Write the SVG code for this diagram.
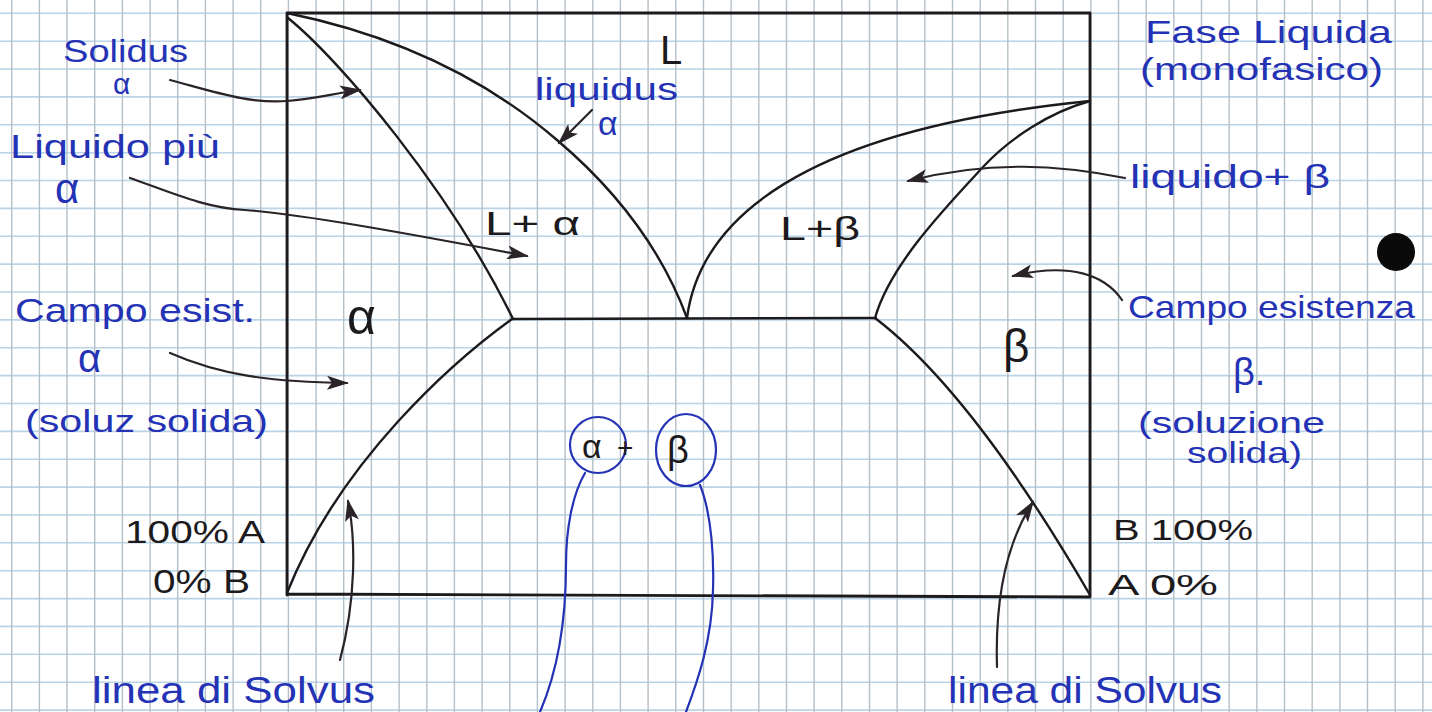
<svg xmlns="http://www.w3.org/2000/svg" width="1432" height="712" viewBox="0 0 1432 712">
<style>
.gv{stroke:#b4c0c8;stroke-width:1.4;fill:none}
.gh{stroke:#b9d4e6;stroke-width:1.6;fill:none}
.ax{stroke:#1c1a1c;stroke-width:2.8;fill:none;stroke-linecap:round}
.cv{stroke:#1c1a1c;stroke-width:2.4;fill:none;stroke-linecap:round}
.ar{stroke:#2a2428;stroke-width:2.2;fill:none;stroke-linecap:round;marker-end:url(#head)}
.bl{stroke:#2433b5;stroke-width:2.2;fill:none;stroke-linecap:round}
.tb{font-family:"Liberation Sans",Arial,sans-serif;fill:#2433b5}
.tk{font-family:"Liberation Sans",Arial,sans-serif;fill:#1c1a1c}
</style>
<defs>
<marker id="head" viewBox="0 0 22 14" refX="20" refY="7" markerWidth="22" markerHeight="14" markerUnits="userSpaceOnUse" orient="auto">
<path d="M0,0 L22,7 L0,14 L5,7 z" fill="#2a2428"/>
</marker>
</defs>
<rect width="1432" height="712" fill="#ffffff"/>
<g id="grid">
<path class="gh" d="M0 13.3H1432M0 41.2H1432M0 69H1432M0 96.9H1432M0 124.8H1432M0 152.7H1432M0 180.5H1432M0 208.4H1432M0 236.3H1432M0 264.1H1432M0 292H1432M0 319.9H1432M0 347.7H1432M0 375.6H1432M0 403.5H1432M0 431.4H1432M0 459.2H1432M0 487.1H1432M0 515H1432M0 542.8H1432M0 570.7H1432M0 598.6H1432M0 626.4H1432M0 654.3H1432M0 682.2H1432M0 710.1H1432"/>
<path class="gv" d="M11.7 0V712M39.4 0V712M67 0V712M94.7 0V712M122.4 0V712M150.1 0V712M177.7 0V712M205.4 0V712M233.1 0V712M260.7 0V712M288.4 0V712M316.1 0V712M343.7 0V712M371.4 0V712M399.1 0V712M426.8 0V712M454.4 0V712M482.1 0V712M509.8 0V712M537.4 0V712M565.1 0V712M592.8 0V712M620.4 0V712M648.1 0V712M675.8 0V712M703.5 0V712M731.1 0V712M758.8 0V712M786.5 0V712M814.1 0V712M841.8 0V712M869.5 0V712M897.1 0V712M924.8 0V712M952.5 0V712M980.2 0V712M1007.8 0V712M1035.5 0V712M1063.2 0V712M1090.8 0V712M1118.5 0V712M1146.2 0V712M1173.8 0V712M1201.5 0V712M1229.2 0V712M1256.9 0V712M1284.5 0V712M1312.2 0V712M1339.9 0V712M1367.5 0V712M1395.2 0V712M1422.9 0V712"/>
</g>
<g id="frame">
<path class="ax" d="M287,13 L1090,13 M287,13 L287,595 M1090,13 L1090,597 M287,594 L1090,597"/>
</g>
<g id="phase-lines">
<path id="liquidus-alpha" class="cv" d="M287,13 C370,30 470,65 557,140 C610,185 660,245 687,318"/>
<path id="solidus-alpha" class="cv" d="M288,18 C340,60 450,190 513,319"/>
<path id="solvus-alpha" class="cv" d="M512,319 C455,360 340,460 287,593"/>
<path id="eutectic" class="cv" d="M512,319 L876,318"/>
<path id="liquidus-beta" class="cv" d="M687,318 C700,220 800,130 1090,101"/>
<path id="solidus-beta" class="cv" d="M1090,101 C1050,112 1010,138 983,167 C945,208 890,265 875,318"/>
<path id="solvus-beta" class="cv" d="M875,318 C930,360 1000,440 1090,595"/>
</g>
<g id="connectors">
<path class="ar" d="M170,80 C215,92 250,104 287,101 C315,99 335,93 360,90"/>
<path class="ar" d="M130,178 C170,192 205,208 245,210 C300,214 400,232 527,256"/>
<path class="ar" d="M592,110 L559,143"/>
<path class="ar" d="M1125,178 C1060,165 990,160 908,181"/>
<path class="ar" d="M1122,300 C1105,275 1070,262 1013,276"/>
<path class="ar" d="M170,353 C220,375 270,382 347,383"/>
<path class="ar" d="M340,660 C356,600 356,540 348,501"/>
<path class="ar" d="M997,667 C995,600 1005,545 1033,502"/>
<path class="bl" d="M585,473 C572,495 566,530 566,565 C566,620 558,670 540,712"/>
<path class="bl" d="M700,485 C712,515 714,560 713,590 C712,640 698,680 686,712"/>
</g>
<g id="label-solidus">
<text class="tb" x="63" y="62" font-size="32" textLength="125" lengthAdjust="spacingAndGlyphs">Solidus</text>
<text class="tb" x="113" y="94" font-size="30">α</text>
</g>
<g id="label-L">
<text class="tk" x="660" y="64" font-size="40">L</text>
</g>
<g id="label-liquidus">
<text class="tb" x="535" y="100" font-size="32" textLength="143" lengthAdjust="spacingAndGlyphs">liquidus</text>
<text class="tb" x="598" y="135" font-size="34">α</text>
</g>
<g id="label-fase-liquida">
<text class="tb" x="1145" y="43" font-size="32" textLength="247" lengthAdjust="spacingAndGlyphs">Fase Liquida</text>
<text class="tb" x="1140" y="80" font-size="32" textLength="243" lengthAdjust="spacingAndGlyphs">(monofasico)</text>
</g>
<g id="label-liquido-piu">
<text class="tb" x="10" y="158" font-size="34" textLength="210" lengthAdjust="spacingAndGlyphs">Liquido più</text>
<text class="tb" x="55" y="203" font-size="42">α</text>
</g>
<g id="label-L-alpha">
<text class="tk" x="485" y="235" font-size="34" textLength="95" lengthAdjust="spacingAndGlyphs">L+ α</text>
</g>
<g id="label-L-beta">
<text class="tk" x="780" y="240" font-size="34" textLength="80" lengthAdjust="spacingAndGlyphs">L+β</text>
</g>
<g id="label-liquido-beta">
<text class="tb" x="1130" y="188" font-size="34" textLength="200" lengthAdjust="spacingAndGlyphs">liquido+ β</text>
</g>
<g id="dot">
<circle cx="1396" cy="252" r="19" fill="#0a0a0a"/>
</g>
<g id="label-campo-alpha">
<text class="tb" x="15" y="322" font-size="34" textLength="240" lengthAdjust="spacingAndGlyphs">Campo esist.</text>
<text class="tb" x="78" y="372" font-size="40">α</text>
<text class="tb" x="25" y="432" font-size="32" textLength="243" lengthAdjust="spacingAndGlyphs">(soluz solida)</text>
</g>
<g id="label-alpha">
<text class="tk" x="347" y="334" font-size="50">α</text>
</g>
<g id="label-campo-beta">
<text class="tb" x="1128" y="318" font-size="32" textLength="287" lengthAdjust="spacingAndGlyphs">Campo esistenza</text>
<text class="tb" x="1233" y="385" font-size="38">β.</text>
<text class="tb" x="1138" y="433" font-size="30" textLength="187" lengthAdjust="spacingAndGlyphs">(soluzione</text>
<text class="tb" x="1187" y="463" font-size="30" textLength="115" lengthAdjust="spacingAndGlyphs">solida)</text>
</g>
<g id="label-beta">
<text class="tk" x="1003" y="362" font-size="46">β</text>
</g>
<g id="label-alpha-beta">
<ellipse cx="598" cy="445" rx="28" ry="28" fill="none" stroke="#2433b5" stroke-width="2.2"/>
<ellipse cx="686" cy="450" rx="30" ry="36" fill="none" stroke="#2433b5" stroke-width="2.2"/>
<text class="tk" x="582" y="458" font-size="34">α</text>
<text class="tk" x="617" y="457" font-size="28">+</text>
<text class="tk" x="667" y="463" font-size="38">β</text>
</g>
<g id="label-left-axis">
<text class="tk" x="125" y="543" font-size="32" textLength="140" lengthAdjust="spacingAndGlyphs">100% A</text>
<text class="tk" x="153" y="593" font-size="34" textLength="97" lengthAdjust="spacingAndGlyphs">0% B</text>
</g>
<g id="label-right-axis">
<text class="tk" x="1113" y="540" font-size="30" textLength="140" lengthAdjust="spacingAndGlyphs">B 100%</text>
<text class="tk" x="1108" y="595" font-size="30" textLength="110" lengthAdjust="spacingAndGlyphs">A 0%</text>
</g>
<g id="label-solvus-left">
<text class="tb" x="92" y="703" font-size="36" textLength="283" lengthAdjust="spacingAndGlyphs">linea di Solvus</text>
</g>
<g id="label-solvus-right">
<text class="tb" x="948" y="703" font-size="36" textLength="274" lengthAdjust="spacingAndGlyphs">linea di Solvus</text>
</g>
</svg>
